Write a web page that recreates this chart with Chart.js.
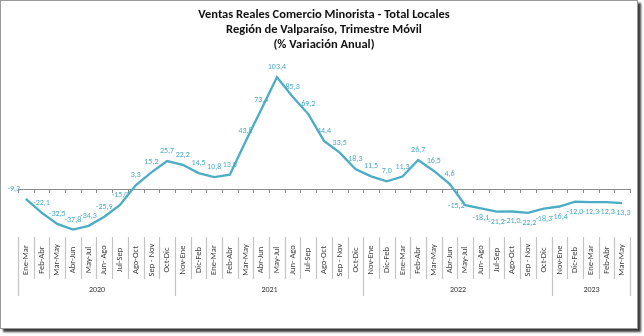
<!DOCTYPE html>
<html>
<head>
<meta charset="utf-8">
<script src="https://cdn.jsdelivr.net/npm/chart.js@4"></script>
<style>
  html, body { margin: 0; padding: 0; background: #fff; }
  #frame {
    position: absolute; left: 0; top: 0;
    width: 636px; height: 327px;
    border: 1px solid #9a9a9a;
    box-shadow: 3px 3px 2px #3c3c3c;
    background: #fff;
  }
  #frame canvas { display: block; }
</style>
</head>
<body>
<div id="frame"><canvas id="ventasChart" width="636" height="327"></canvas></div>
<script>
// Rolling quarter labels (trimestre movil), grouped by year
const periods = [
  "Ene-Mar", "Feb-Abr", "Mar-May", "Abr-Jun", "May-Jul", "Jun- Ago", "Jul-Sep", "Ago-Oct", "Sep - Nov", "Oct-Dic",
  "Nov-Ene", "Dic-Feb", "Ene-Mar", "Feb-Abr", "Mar-May", "Abr-Jun", "May-Jul", "Jun- Ago", "Jul-Sep", "Ago-Oct", "Sep - Nov", "Oct-Dic",
  "Nov-Ene", "Dic-Feb", "Ene-Mar", "Feb-Abr", "Mar-May", "Abr-Jun", "May-Jul", "Jun- Ago", "Jul-Sep", "Ago-Oct", "Sep - Nov", "Oct-Dic",
  "Nov-Ene", "Dic-Feb", "Ene-Mar", "Feb-Abr", "Mar-May",
];

// % variacion anual
const variation = [
  -9.3, -22.1, -32.5, -37.8, -34.3, -25.9, -15.0, 3.3, 15.2, 25.7,
  22.2, 14.5, 10.8, 13.0, 43.8, 73.4, 103.4, 85.3, 69.2, 44.4, 33.5, 18.3,
  11.5, 7.0, 11.3, 26.7, 16.5, 4.6, -15.2, -18.1, -21.2, -21.0, -22.2, -18.3,
  -16.4, -12.0, -12.3, -12.3, -13.3,
];

const years = ["2020", "2021", "2022", "2023"];
const yearSizes = [10, 12, 12, 5];

const labelFont = "Carlito, Lato, 'Liberation Sans', sans-serif";
const lineColor = "#4bacc6";

// Draws the zero line, the category / year axis and the value labels
const axisDecor = {
  id: "axisDecor",
  beforeDatasetsDraw(chart) {
    const { ctx, chartArea, scales } = chart;
    const y0 = scales.y.getPixelForValue(0);
    const step = scales.x.getPixelForValue(1) - scales.x.getPixelForValue(0);
    ctx.save();
    ctx.strokeStyle = "#8c8c8c";
    ctx.lineWidth = 1;
    ctx.beginPath();
    ctx.moveTo(chartArea.left, Math.round(y0) + 0.5);
    ctx.lineTo(chartArea.right, Math.round(y0) + 0.5);
    for (let i = 0; i <= periods.length; i++) {
      const x = Math.round(scales.x.getPixelForValue(i) - step / 2) + 0.5;
      ctx.moveTo(x, Math.round(y0));
      ctx.lineTo(x, Math.round(y0) + 4);
    }
    ctx.stroke();
    ctx.restore();
  },
  afterDatasetsDraw(chart) {
    const { ctx, chartArea, scales } = chart;
    const xs = scales.x;
    const step = xs.getPixelForValue(1) - xs.getPixelForValue(0);
    const edge = (i) => Math.round(xs.getPixelForValue(i) - step / 2) + 0.5;

    // group boundaries
    const starts = [0];
    yearSizes.forEach((n, k) => starts.push(starts[k] + n));

    ctx.save();
    ctx.strokeStyle = "#c4c4c4";
    ctx.lineWidth = 1.2;
    ctx.beginPath();
    for (let i = 0; i <= periods.length; i++) {
      const long = starts.includes(i);
      ctx.moveTo(edge(i), chartArea.bottom + 5);
      ctx.lineTo(edge(i), chartArea.bottom + (long ? 64 : 47));
    }
    ctx.stroke();

    // category labels, rotated
    ctx.fillStyle = "#404040";
    ctx.font = "8.5px " + labelFont;
    ctx.textAlign = "center";
    ctx.textBaseline = "middle";
    periods.forEach((p, i) => {
      ctx.save();
      ctx.translate(xs.getPixelForValue(i), chartArea.bottom + 28);
      ctx.rotate(-Math.PI / 2);
      ctx.fillText(p, 0, 0);
      ctx.restore();
    });

    // year labels
    ctx.font = "8px " + labelFont;
    years.forEach((yr, k) => {
      const x = (edge(starts[k]) + edge(starts[k + 1])) / 2;
      ctx.fillText(yr, x, chartArea.bottom + 58);
    });

    // value labels
    ctx.fillStyle = lineColor;
    ctx.font = "8px " + labelFont;
    const meta = chart.getDatasetMeta(0);
    meta.data.forEach((pt, i) => {
      let x = pt.x, y = pt.y - 10;
      if (i === 0) { x -= 12; }
      else if (i === 28) { x -= 9; y = pt.y + 1; }
      else if (i > 28) { y = pt.y + 10; }
      ctx.fillText(variation[i].toFixed(1).replace(".", ","), x, y);
    });
    ctx.restore();
  },
};

new Chart(document.getElementById("ventasChart"), {
  type: "line",
  data: {
    labels: periods,
    datasets: [
      {
        label: "% Variación Anual",
        data: variation,
        borderColor: lineColor,
        backgroundColor: lineColor,
        borderWidth: 2.3,
        pointRadius: 0,
        tension: 0,
        fill: false,
      },
    ],
  },
  options: {
    responsive: false,
    animation: false,
    layout: { padding: { left: 17, right: 7, top: 0, bottom: 0 } },
    plugins: {
      legend: { display: false },
      tooltip: { enabled: false },
      title: {
        display: true,
        text: [
          "Ventas Reales Comercio Minorista - Total Locales",
          "Región de Valparaíso, Trimestre Móvil",
          "(% Variación Anual)",
        ],
        color: "#111111",
        font: { family: labelFont, size: 12.5, weight: "bold", lineHeight: "15px" },
        padding: { top: 6, bottom: 18 },
      },
    },
    scales: {
      x: {
        type: "category",
        offset: true,
        grid: { display: false },
        border: { display: false },
        ticks: { display: false },
        afterFit: (scale) => { scale.height = 96; },
      },
      y: {
        display: false,
        min: -40,
        max: 110,
      },
    },
  },
  plugins: [axisDecor],
});
</script>
</body>
</html>
